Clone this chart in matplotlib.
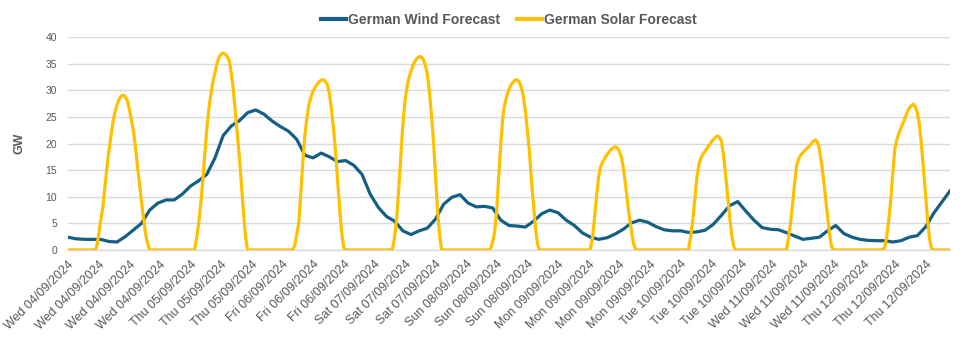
import matplotlib
matplotlib.use("Agg")
import matplotlib.pyplot as plt
from matplotlib import font_manager

# ---- data ----
# wind forecast (GW), every 2 hours starting Wed 04/09/2024 00:00
wind_hours = list(range(0, 217, 2))
wind_gw = [2.4, 2.1, 2.0, 2.0, 2.0, 1.6, 1.5, 2.5, 3.75, 5.0,
           7.5, 8.8, 9.4, 9.4, 10.5, 12.0, 13.0, 14.2, 17.3, 21.5,
           23.3, 24.3, 25.8, 26.3, 25.5, 24.2, 23.2, 22.3, 20.8, 17.8,
           17.3, 18.2, 17.5, 16.6, 16.8, 15.9, 14.2, 10.5, 8.0, 6.3,
           5.4, 3.6, 2.9, 3.6, 4.1, 5.8, 8.6, 9.9, 10.4, 8.8,
           8.1, 8.2, 7.9, 5.6, 4.6, 4.5, 4.3, 5.4, 6.8, 7.5,
           7.0, 5.6, 4.6, 3.2, 2.4, 2.0, 2.3, 3.0, 3.9, 5.1,
           5.6, 5.2, 4.4, 3.8, 3.6, 3.6, 3.3, 3.4, 3.7, 4.8,
           6.5, 8.3, 9.1, 7.3, 5.6, 4.2, 3.9, 3.8, 3.25, 2.6,
           2.0, 2.2, 2.4, 3.6, 4.6, 3.1, 2.4, 2.0, 1.8, 1.75,
           1.75, 1.5, 1.75, 2.4, 2.7, 4.3, 6.9, 9.0, 11.1]

# solar forecast (GW), half-hourly; each day list runs 07:00 .. 19:30
night_am = [0] * 14          # 00:00 .. 06:30
night_pm = [0] * 8           # 20:00 .. 23:30
solar_wed04 = [0.5, 2.8, 5.5, 7.8, 11.5, 15.2, 18.5, 21.3, 24, 25.8, 27.3, 28.3, 28.9,
               29.1, 28.8, 28.1, 26.6, 24.6, 22.5, 19.5, 15.8, 12.5, 9, 6, 3, 1.2]
solar_thu05 = [0.1, 2.2, 5, 8.5, 13, 18, 22.8, 26.5, 29.3, 31.6, 33.3, 35, 36.2,
               36.8, 37, 36.8, 36.3, 35.6, 33.2, 30, 25.8, 21.6, 17.2, 11.9, 6.8, 2.3]
solar_fri06 = [0, 0.8, 2.8, 5, 10.5, 16.5, 21.5, 24.8, 27.3, 28.7, 29.8, 30.5, 31.1,
               31.6, 31.9, 32, 31.7, 31.1, 29.5, 26.5, 23, 18.8, 13.5, 8, 3.5, 0.5]
solar_sat07 = [0, 0.3, 2.5, 6, 11.5, 17.5, 23.5, 27.8, 30.5, 32.3, 33.6, 34.7, 35.5,
               36, 36.3, 36.3, 35.8, 34.8, 33, 29.8, 25.5, 20.5, 14, 7.5, 2.8, 0]
solar_sun08 = [0, 0.3, 1.5, 3.5, 7.5, 14, 20, 25, 27.5, 29, 30.2, 31, 31.5,
               31.9, 32, 31.6, 30.5, 29, 26.2, 22.5, 18.5, 13, 8.5, 4, 1, 0]
solar_mon09 = [0, 0, 0.4, 2.5, 6.5, 10.5, 14, 15.8, 16.6, 17.3, 17.9, 18.4, 18.9,
               19.2, 19.4, 19.2, 18.6, 17.5, 15.5, 12.5, 9.3, 6, 3.5, 1.2, 0.2, 0]
solar_tue10 = [0, 0, 0.2, 2.5, 5.5, 9.5, 13.5, 16, 17.3, 18, 18.5, 19.1, 19.7,
               20.2, 20.7, 21.1, 21.4, 21.2, 20.5, 18, 14.5, 10.5, 6.5, 3, 0.8, 0]
solar_wed11 = [0, 0, 0.2, 2.5, 5.5, 9, 13, 16, 17.2, 17.9, 18.3, 18.7, 19.1,
               19.5, 19.9, 20.4, 20.7, 20.3, 19, 16.5, 13.5, 10, 6.5, 3, 0.6, 0]
solar_thu12 = [0, 0, 0.5, 2.5, 5.5, 9.5, 14.5, 19, 20.8, 21.9, 22.9, 23.8, 24.8,
               25.8, 26.6, 27.1, 27.4, 26.9, 25.8, 23.5, 19.8, 15.3, 10.5, 5.8, 2, 0.3]
solar_days = [solar_wed04, solar_thu05, solar_fri06, solar_sat07, solar_sun08,
              solar_mon09, solar_tue10, solar_wed11, solar_thu12]

tick_labels = (["Wed 04/09/2024"] * 4 + ["Thu 05/09/2024"] * 3 + ["Fri 06/09/2024"] * 3
               + ["Sat 07/09/2024"] * 3 + ["Sun 08/09/2024"] * 3 + ["Mon 09/09/2024"] * 4
               + ["Tue 10/09/2024"] * 3 + ["Wed 11/09/2024"] * 3 + ["Thu 12/09/2024"] * 3)
tick_step_hours = 7.5

solar_gw = []
for day in solar_days:
    solar_gw += night_am + day + night_pm
solar_gw.append(0)
solar_hours = [i * 0.5 for i in range(len(solar_gw))]

# ---- fonts ----
available = {f.name for f in font_manager.fontManager.ttflist}
base_font = "Liberation Sans" if "Liberation Sans" in available else "DejaVu Sans"
plt.rcParams["font.family"] = [base_font, "DejaVu Sans"]

TEXT = "#595959"
GRID = "#D9D9D9"
WIND_C = "#156082"
SOLAR_C = "#FFC000"

fig = plt.figure(figsize=(9.65, 3.5), dpi=100)
ax = fig.add_axes([68 / 965, 1 - 250 / 350, (950 - 68) / 965, (250 - 37) / 350])

ax.plot(wind_hours, wind_gw, color=WIND_C, lw=2.3, label="German Wind Forecast",
        solid_joinstyle="round", zorder=3)
ax.plot(solar_hours, solar_gw, color=SOLAR_C, lw=2.3, label="German Solar Forecast",
        solid_joinstyle="round", zorder=3)

ax.set_xlim(0, 216)
ax.set_ylim(0, 40)
ax.set_yticks(range(0, 41, 5))
ticks = [i * tick_step_hours for i in range(len(tick_labels))]
ax.set_xticks(ticks)
ax.set_xticklabels(tick_labels, rotation=45, ha="right", rotation_mode="anchor",
                   fontsize=9, color=TEXT)
ax.tick_params(axis="both", length=0)
ax.tick_params(axis="x", pad=6)
ax.tick_params(axis="y", pad=8, labelsize=7.5, labelcolor=TEXT)

ax.grid(axis="y", color=GRID, lw=1)
ax.set_axisbelow(True)
for s in ["top", "right", "left"]:
    ax.spines[s].set_visible(False)
ax.spines["bottom"].set_color(GRID)
ax.spines["bottom"].set_linewidth(1)

ax.set_ylabel("GW", fontsize=9, fontweight="bold", color=TEXT, labelpad=14)

leg = fig.legend(loc="center", bbox_to_anchor=(509 / 965, 1 - 20 / 350), ncol=2,
                 frameon=False, handlelength=1.8, handletextpad=0.15, columnspacing=1.2,
                 prop={"weight": "bold", "size": 10})
for t in leg.get_texts():
    t.set_color(TEXT)
for h in leg.get_lines():
    h.set_linewidth(3)

fig.savefig("out.png", dpi=100)
